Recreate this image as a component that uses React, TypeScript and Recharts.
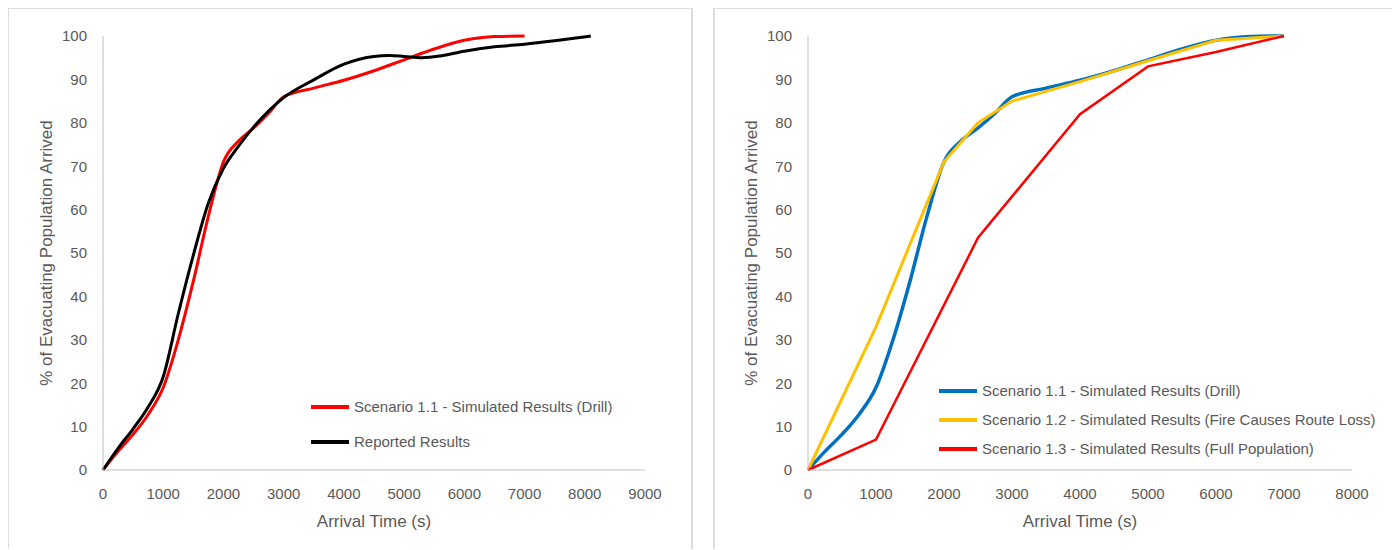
import React from 'react';
import { LineChart, Line, XAxis, YAxis, Legend, Label } from 'recharts';

// Scenario 1.1 (drill) - shared by both panels
const drillTime = [0, 250, 500, 750, 1000, 1250, 1500, 1750, 2000, 2250, 2500, 2750, 3000, 3500, 4000, 4500, 5000, 5500, 6000, 6500, 7000];
const drillPct = [0, 4.3, 8.2, 12.8, 19, 30, 43.5, 58.5, 71, 75.8, 78.8, 82.2, 86, 88, 89.8, 92, 94.5, 97, 99, 99.9, 100];

// Reported results (left panel)
const reportedTime = [0, 250, 500, 750, 1000, 1250, 1500, 1750, 2000, 2250, 2500, 3000, 3500, 4000, 4500, 4750, 5000, 5300, 5600, 6000, 6500, 7000, 7500, 8100];
const reportedPct = [0, 5, 9.5, 14.5, 21.5, 36, 49.5, 61.5, 69.5, 74.6, 79, 85.8, 89.9, 93.5, 95.3, 95.5, 95.3, 95, 95.4, 96.5, 97.5, 98.1, 98.9, 100];

// Scenario 1.2 (fire causes route loss)
const fireTime = [0, 1000, 2000, 2500, 3000, 4000, 5000, 6000, 7000];
const firePct = [0, 33, 71, 80, 85, 89.5, 94.3, 99, 100];

// Scenario 1.3 (full population)
const fullTime = [0, 1000, 2500, 4000, 5000, 6000, 7000];
const fullPct = [0, 7, 53.5, 82, 93, 96.3, 100];

const yTicks = [0, 10, 20, 30, 40, 50, 60, 70, 80, 90, 100];
const xTicksLeft = [0, 1000, 2000, 3000, 4000, 5000, 6000, 7000, 8000, 9000];
const xTicksRight = [0, 1000, 2000, 3000, 4000, 5000, 6000, 7000, 8000];

const leftNames = ['Scenario 1.1 - Simulated Results (Drill)', 'Reported Results'];
const rightNames = [
  'Scenario 1.1 - Simulated Results (Drill)',
  'Scenario 1.2 - Simulated Results (Fire Causes Route Loss)',
  'Scenario 1.3 - Simulated Results (Full Population)',
];

const toRows = (xs: number[], ys: number[]) => xs.map((x, i) => ({ x, y: ys[i] }));

const FONT = '"Liberation Sans", Arial, sans-serif';
const TEXT = '#595959';
const AXIS = '#bfbfbf';

const tickStyle = { fontSize: 15, fill: TEXT, fontFamily: FONT };

// legend keeps the series order (recharts sorts by name otherwise)
const makeLegend = (rowH: number, order: string[]) => (props: any) => {
  const items = [...(props.payload || [])].sort(
    (a: any, b: any) => order.indexOf(a.value) - order.indexOf(b.value)
  );
  return (
    <div style={{ fontFamily: FONT, fontSize: 15, color: TEXT }}>
      {items.map((p: any) => (
        <div key={p.value} style={{ height: rowH, display: 'flex', alignItems: 'center', whiteSpace: 'nowrap' }}>
          <svg width={38} height={6} style={{ marginRight: 5 }}>
            <line x1={0} y1={3} x2={38} y2={3} stroke={p.color} strokeWidth={4} />
          </svg>
          <span>{p.value}</span>
        </div>
      ))}
    </div>
  );
};

const YTitle = (props: any) => {
  const { viewBox } = props;
  const cx = 37.5;
  const cy = viewBox.y + viewBox.height / 2;
  return (
    <text
      x={cx}
      y={cy}
      transform={`rotate(-90 ${cx} ${cy})`}
      textAnchor="middle"
      dy="0.36em"
      fontSize={17}
      fontFamily={FONT}
      fill={TEXT}
    >
      % of Evacuating Population Arrived
    </text>
  );
};

const Box = ({ left, width }: { left: number; width: number }) => (
  <div
    style={{
      position: 'absolute',
      left,
      top: -1,
      width,
      height: 542,
      boxSizing: 'border-box',
      border: '2px solid #dedede',
      borderBottom: 'none',
    }}
  />
);

const Panel = ({ xMax, xTicks, rightMargin, legendLeft, legendTop, rowH, order, children }: any) => (
  <LineChart width={680} height={540} margin={{ top: 28, right: rightMargin, bottom: 18, left: 0 }}>
    <XAxis
      type="number"
      dataKey="x"
      domain={[0, xMax]}
      ticks={xTicks}
      allowDuplicatedCategory={false}
      stroke={AXIS}
      tickLine={false}
      tickSize={0}
      tickMargin={18}
      tick={tickStyle}
      height={60}
    >
      <Label
        value="Arrival Time (s)"
        position="insideBottom"
        offset={3}
        style={{ fontSize: 17, fill: TEXT, fontFamily: FONT }}
      />
    </XAxis>
    <YAxis
      type="number"
      dataKey="y"
      domain={[0, 100]}
      ticks={yTicks}
      stroke={AXIS}
      tickLine={false}
      tickSize={0}
      tickMargin={16}
      tick={tickStyle}
      width={95}
    >
      <Label content={YTitle} />
    </YAxis>
    <Legend
      layout="vertical"
      align="center"
      verticalAlign="middle"
      content={makeLegend(rowH, order)}
      wrapperStyle={{ left: legendLeft, top: legendTop, width: 'auto' }}
    />
    {children}
  </LineChart>
);

export default function App() {
  return (
    <div style={{ position: 'relative', width: 1384, height: 542, background: '#fff' }}>
      <Box left={-1} width={686} />
      <Box left={705} width={682} />
      <div style={{ position: 'absolute', left: 0, top: 0 }}>
        <Panel
          xMax={9000}
          xTicks={xTicksLeft}
          rightMargin={43}
          legendLeft={303}
          legendTop={381}
          rowH={35}
          order={leftNames}
        >
          <Line
            data={toRows(drillTime, drillPct)}
            dataKey="y"
            name={leftNames[0]}
            type="monotoneX"
            stroke="#ff0000"
            strokeWidth={3}
            dot={false}
            isAnimationActive={false}
          />
          <Line
            data={toRows(reportedTime, reportedPct)}
            dataKey="y"
            name={leftNames[1]}
            type="monotoneX"
            stroke="#000000"
            strokeWidth={3}
            dot={false}
            isAnimationActive={false}
          />
        </Panel>
      </div>
      <div style={{ position: 'absolute', left: 705, top: 0 }}>
        <Panel
          xMax={8000}
          xTicks={xTicksRight}
          rightMargin={41}
          legendLeft={226}
          legendTop={368}
          rowH={29}
          order={rightNames}
        >
          <Line
            data={toRows(drillTime, drillPct)}
            dataKey="y"
            name={rightNames[0]}
            type="monotoneX"
            stroke="#0070c0"
            strokeWidth={3.5}
            dot={false}
            isAnimationActive={false}
          />
          <Line
            data={toRows(fireTime, firePct)}
            dataKey="y"
            name={rightNames[1]}
            type="linear"
            stroke="#ffc000"
            strokeWidth={3}
            dot={false}
            isAnimationActive={false}
          />
          <Line
            data={toRows(fullTime, fullPct)}
            dataKey="y"
            name={rightNames[2]}
            type="linear"
            stroke="#ff0000"
            strokeWidth={2.5}
            dot={false}
            isAnimationActive={false}
          />
        </Panel>
      </div>
    </div>
  );
}
